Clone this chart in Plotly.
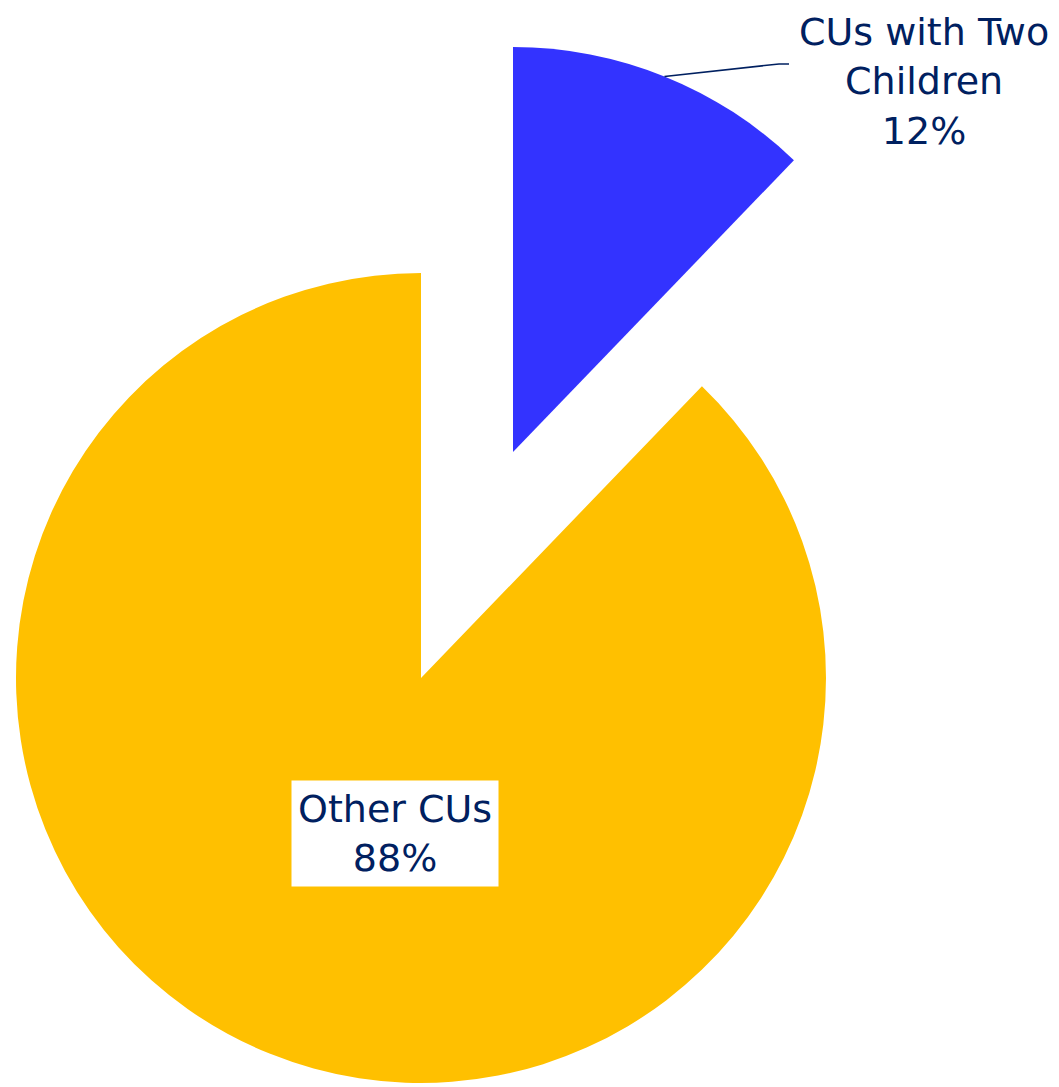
import math
import plotly.graph_objects as go

# ---- data ----
labels = ["CUs with Two Children", "Other CUs"]
label_lines = ["CUs with Two<br>Children", "Other CUs"]
values = [12.2, 87.8]
colors = ["#3333FF", "#FFC000"]

# ---- layout constants (pixels) ----
W, H = 1059, 1087
R = 405
main_c = (421, 678)      # centre of the main pie
pulled_c = (513, 452)    # centre of the pulled-out slice
TXT = "#002060"
FONT = "DejaVu Sans"
FS = 38

def dom(c):
    x0, x1 = (c[0] - R) / W, (c[0] + R) / W
    y0, y1 = 1 - (c[1] + R) / H, 1 - (c[1] - R) / H
    return dict(x=[max(0, x0), min(1, x1)], y=[max(0, y0), min(1, y1)])

clear = "rgba(0,0,0,0)"
fig = go.Figure()
# main pie: only the "Other CUs" slice visible
fig.add_trace(go.Pie(labels=labels, values=values, sort=False, direction="clockwise",
                     rotation=0, marker=dict(colors=[clear, colors[1]], line=dict(width=0)),
                     textinfo="none", hoverinfo="label+percent", showlegend=False,
                     domain=dom(main_c)))
# pulled-out slice
fig.add_trace(go.Pie(labels=labels, values=values, sort=False, direction="clockwise",
                     rotation=0, marker=dict(colors=[colors[0], clear], line=dict(width=0)),
                     textinfo="none", hoverinfo="label+percent", showlegend=False,
                     domain=dom(pulled_c)))

total = sum(values)
pct = [f"{round(v / total * 100)}%" for v in values]

# leader line from mid-angle of the pulled slice arc
mid = math.radians(values[0] / total * 360 / 2)
sx = pulled_c[0] + R * math.sin(mid)
sy = pulled_c[1] - R * math.cos(mid)
bx, by = 779, 64
ex = 789
def px(x): return x / W
def py(y): return 1 - y / H
fig.add_shape(type="path", xref="paper", yref="paper",
              path=f"M {px(sx)} {py(sy)} L {px(bx)} {py(by)} L {px(ex)} {py(by)}",
              line=dict(color=TXT, width=1.5))

fig.add_annotation(x=px(924), y=py(81), xref="paper", yref="paper",
                   text=f"{label_lines[0]}<br>{pct[0]}", showarrow=False,
                   xanchor="center", yanchor="middle", align="center",
                   font=dict(family=FONT, size=FS, color=TXT))
fig.add_annotation(x=px(395), y=py(833), xref="paper", yref="paper",
                   text=f"{label_lines[1]}<br>{pct[1]}", showarrow=False,
                   xanchor="center", yanchor="middle", align="center",
                   bgcolor="white", borderpad=6,
                   font=dict(family=FONT, size=FS, color=TXT))

fig.update_layout(width=W, height=H, margin=dict(l=0, r=0, t=0, b=0),
                  paper_bgcolor="white", plot_bgcolor="white")
fig.write_html("out.html")
